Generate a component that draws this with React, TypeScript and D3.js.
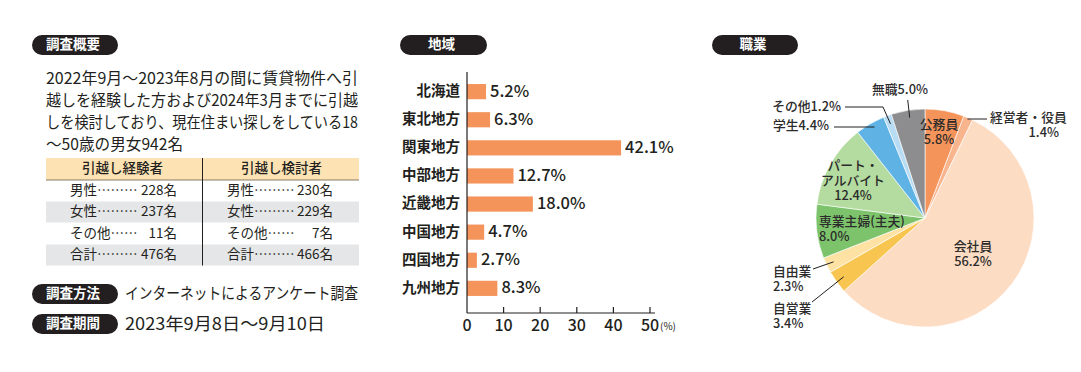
import React from "react";
import * as d3 from "d3";

const FONT = "'Noto Sans CJK JP', 'Noto Sans', sans-serif";

// Survey overview
const summaryLines = [
  "2022年9月～2023年8月の間に賃貸物件へ引",
  "越しを経験した方および2024年3月までに引越",
  "しを検討しており、現在住まい探しをしている18",
  "～50歳の男女942名",
];
const tableHeaders = ["引越し経験者", "引越し検討者"];
const rowLabels = ["男性………", "女性………", "その他……", "合計………"];
const movedCounts = [228, 237, 11, 476];
const consideringCounts = [230, 229, 7, 466];
const methodText = "インターネットによるアンケート調査";
const periodText = "2023年9月8日～9月10日";

// Region bar chart
const regions = ["北海道", "東北地方", "関東地方", "中部地方", "近畿地方", "中国地方", "四国地方", "九州地方"];
const regionValues = [5.2, 6.3, 42.1, 12.7, 18.0, 4.7, 2.7, 8.3];
const xTicks = [0, 10, 20, 30, 40, 50];

// Occupation pie
const jobs = ["公務員", "経営者・役員", "会社員", "自営業", "自由業", "専業主婦(主夫)", "パート・アルバイト", "学生", "その他", "無職"];
const jobValues = [5.8, 1.4, 56.2, 3.4, 2.3, 8.0, 12.4, 4.4, 1.2, 5.0];
const jobColors = ["#f4935a", "#f8b48c", "#fddcc4", "#f8c650", "#fde2a4", "#7dc36c", "#b4dca0", "#5fb3e4", "#b8dcf3", "#8d8d8f"];

function Pill({ x, y, w, label }: { x: number; y: number; w: number; label: string }) {
  return (
    <g>
      <rect x={x} y={y} width={w} height={20} rx={10} ry={10} fill="#231f20" />
      <text x={x + w / 2 - 2} y={y + 10.5} fill="#fff" fontSize={13.5} fontWeight={700} textAnchor="middle" dominantBaseline="middle">
        {label}
      </text>
    </g>
  );
}

export default function App() {
  // bar scales
  const xs = d3.scaleLinear().domain([0, 50]).range([467, 650]);
  const ys = d3.scaleBand<string>().domain(regions).range([77.6, 302.4]).paddingInner(0.46).paddingOuter(0.23);
  const axisBottom = 313;

  // pie
  const cx = 925, cy = 218, R = 109;
  const pie = d3.pie<number>().sort(null).value((d) => d);
  const arcs = pie(jobValues);
  const arcGen = d3.arc<d3.PieArcDatum<number>>().innerRadius(0).outerRadius(R);
  const edge = (i: number, r: number, t = 0.5) => {
    const a = arcs[i].startAngle + (arcs[i].endAngle - arcs[i].startAngle) * t;
    return [cx + r * Math.sin(a), cy - r * Math.cos(a)];
  };

  const tx = 46;
  const colW = 157;
  const rowY = [180, 201.5, 223, 244.5];

  const pieText = { fontSize: 12.8, fill: "#2b2b2b", fontWeight: 500 } as const;
  const pNone = edge(9, R * 0.93, 0.55);
  const pOther = edge(8, R * 0.92);
  const pStudent = edge(7, R * 0.92);
  const pExec = edge(1, R * 0.98);
  const pFree = edge(4, R * 0.93);
  const pSelf = edge(3, R * 0.92);

  return (
    <svg width={1081} height={372} style={{ position: "absolute", left: 0, top: 0, background: "#fff" }} fontFamily={FONT}>
      {/* ===== Survey overview ===== */}
      <Pill x={32} y={35} w={86} label="調査概要" />
      {summaryLines.map((s, i) => (
        <text
          key={i}
          x={tx}
          y={80 + i * 21.8}
          fontSize={15.6}
          fill="#231f20"
          dominantBaseline="middle"
          textLength={i < 3 ? 312 : 137}
          lengthAdjust="spacingAndGlyphs"
        >
          {s}
        </text>
      ))}
      <rect x={tx} y={158} width={2 * colW - 1} height={22} fill="#fde2b3" />
      <line x1={tx} x2={tx + 2 * colW - 1} y1={180} y2={180} stroke="#6b5d4a" strokeWidth={0.8} />
      {[1, 3].map((r) => (
        <rect key={r} x={tx} y={rowY[r]} width={2 * colW - 1} height={21} fill="#e5e6e7" />
      ))}
      <line x1={202.5} x2={202.5} y1={158} y2={265.5} stroke="#231f20" strokeWidth={1} />
      {tableHeaders.map((h, i) => (
        <text key={h} x={tx + colW * i + colW / 2 - (i === 0 ? 2 : 0)} y={169.5} fontSize={13.5} fill="#231f20" textAnchor="middle" dominantBaseline="middle" fontWeight={500}>
          {h}
        </text>
      ))}
      {rowLabels.map((lab, r) => (
        <g key={lab} fontSize={13.5} fill="#231f20">
          <text x={70} y={rowY[r] + 11} dominantBaseline="middle">{lab}</text>
          <text x={177} y={rowY[r] + 11} dominantBaseline="middle" textAnchor="end">{movedCounts[r] + "名"}</text>
          <text x={227} y={rowY[r] + 11} dominantBaseline="middle">{lab}</text>
          <text x={333} y={rowY[r] + 11} dominantBaseline="middle" textAnchor="end">{consideringCounts[r] + "名"}</text>
        </g>
      ))}
      <Pill x={32} y={284} w={86} label="調査方法" />
      <text x={125} y={294.5} fontSize={15.8} fill="#231f20" dominantBaseline="middle" textLength={233} lengthAdjust="spacingAndGlyphs">{methodText}</text>
      <Pill x={32} y={314} w={86} label="調査期間" />
      <text x={125} y={325} fontSize={17.5} fill="#231f20" dominantBaseline="middle" textLength={200} lengthAdjust="spacingAndGlyphs">{periodText}</text>

      {/* ===== Region bar chart ===== */}
      <Pill x={400} y={35} w={87} label="地域" />
      {regions.map((r, i) => {
        const y = ys(r)!;
        return (
          <g key={r}>
            <rect x={xs(0)} y={y} width={xs(regionValues[i]) - xs(0)} height={ys.bandwidth()} fill="#f4935a" />
            <text x={460} y={y + ys.bandwidth() / 2 + 0.5} fontSize={14.5} fontWeight={700} fill="#231f20" textAnchor="end" dominantBaseline="middle">
              {r}
            </text>
            <text x={xs(regionValues[i]) + 4} y={y + ys.bandwidth() / 2 + 0.5} fontSize={16.5} fill="#231f20" dominantBaseline="middle" fontWeight={500}>
              {regionValues[i].toFixed(1) + "%"}
            </text>
          </g>
        );
      })}
      <line x1={xs(0)} x2={xs(0)} y1={72} y2={axisBottom} stroke="#231f20" strokeWidth={1.2} />
      <line x1={xs(0)} x2={xs(50) + 5} y1={axisBottom} y2={axisBottom} stroke="#231f20" strokeWidth={1.2} />
      {xTicks.map((t) => (
        <g key={t}>
          {t > 0 && <line x1={xs(t)} x2={xs(t)} y1={axisBottom} y2={axisBottom - 6} stroke="#231f20" strokeWidth={1.2} />}
          <text x={xs(t)} y={326.5} fontSize={16} fill="#231f20" textAnchor="middle" dominantBaseline="middle" fontWeight={500}>
            {t}
          </text>
        </g>
      ))}
      <text x={660} y={327} fontSize={10} fill="#231f20" dominantBaseline="middle">(%)</text>

      {/* ===== Occupation pie ===== */}
      <Pill x={712} y={35} w={86} label="職業" />
      <g transform={`translate(${cx},${cy})`}>
        {arcs.map((a, i) => (
          <path key={jobs[i]} d={arcGen(a)!} fill={jobColors[i]} stroke="#fff" strokeWidth={0.6} />
        ))}
      </g>
      <g stroke="#231f20" strokeWidth={1} fill="none">
        <polyline points={`${pNone[0] - 1},${pNone[1]} ${pNone[0] - 3},100`} />
        <polyline points={`845,107 883,107 ${pOther[0]},${pOther[1]}`} />
        <polyline points={`834,127 ${pStudent[0]},127`} />
        <polyline points={`${pExec[0]},119 987,119`} />
        <polyline points={`813,269 ${pFree[0]},${pFree[1]}`} />
        <polyline points={`812,302 ${pSelf[0]},${pSelf[1]}`} />
      </g>
      <g {...pieText} dominantBaseline="middle">
        <text x={900} y={91} textAnchor="middle">無職5.0%</text>
        <text x={841} y={108} textAnchor="end">その他1.2%</text>
        <text x={829} y={127} textAnchor="end">学生4.4%</text>
        <text x={939} y={126} textAnchor="middle">公務員</text>
        <text x={939} y={141} textAnchor="middle">5.8%</text>
        <text x={990} y={119}>経営者・役員</text>
        <text x={1059} y={134} textAnchor="end">1.4%</text>
        <text x={853} y={167} textAnchor="middle">パート・</text>
        <text x={853} y={182} textAnchor="middle">アルバイト</text>
        <text x={853} y={197} textAnchor="middle">12.4%</text>
        <text x={819} y={223}>専業主婦(主夫)</text>
        <text x={819} y={238}>8.0%</text>
        <text x={973} y={248} textAnchor="middle">会社員</text>
        <text x={973} y={263} textAnchor="middle">56.2%</text>
        <text x={773} y={273}>自由業</text>
        <text x={773} y={288}>2.3%</text>
        <text x={773} y={310}>自営業</text>
        <text x={773} y={325}>3.4%</text>
      </g>
    </svg>
  );
}
